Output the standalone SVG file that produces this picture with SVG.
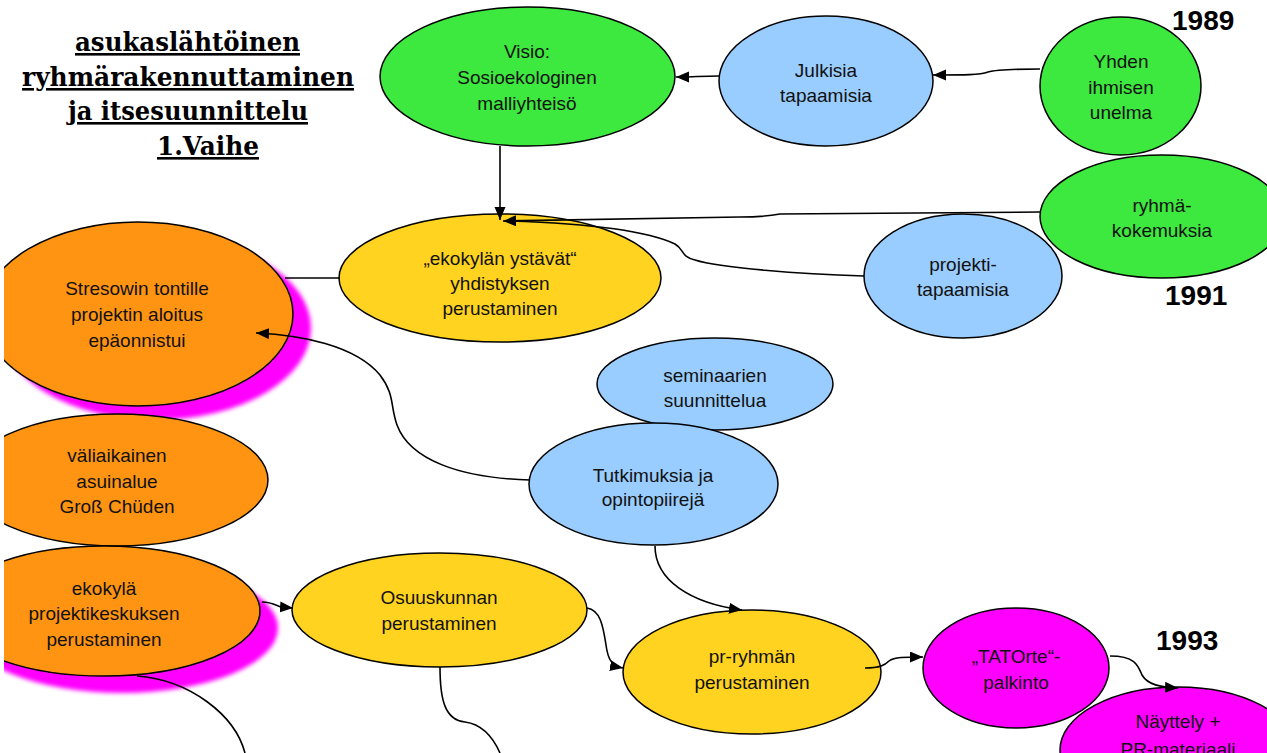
<svg xmlns="http://www.w3.org/2000/svg" width="1267" height="753" viewBox="0 0 1267 753">
<defs>
<marker id="arr" markerUnits="userSpaceOnUse" markerWidth="14" markerHeight="12" refX="13" refY="5.5" orient="auto"><path d="M0,0 L13,5.5 L0,11 z" fill="#000"/></marker>
<filter id="blur" x="-20%" y="-20%" width="140%" height="140%"><feGaussianBlur stdDeviation="2"/></filter>
<clipPath id="pg"><rect x="4" y="0" width="1263" height="753"/></clipPath>
</defs>
<style>
.n ellipse{stroke:#000;stroke-width:1.5}
.g{fill:#3DE83F}.b{fill:#99CCFF}.y{fill:#FFD320}.o{fill:#FF9412}.m{fill:#FF00FF}
.n ellipse.sh{fill:#FF00FF;stroke:none;filter:url(#blur)}
text{font-family:"Liberation Sans",Arial,sans-serif;font-size:19px;fill:#111;text-anchor:middle}
text.t{font-family:"DejaVu Serif",serif;font-weight:bold;font-size:26px;text-decoration:underline;fill:#000}
text.yr{font-weight:bold;font-size:28px;text-anchor:start;fill:#000}
.c path{fill:none;stroke:#000;stroke-width:1.6}
</style>
<rect width="1267" height="753" fill="#fff"/>

<g id="title">
<text class="t" x="187.5" y="51" textLength="225" lengthAdjust="spacingAndGlyphs">asukaslähtöinen</text>
<text class="t" x="188" y="86" textLength="332" lengthAdjust="spacingAndGlyphs">ryhmärakennuttaminen</text>
<text class="t" x="188" y="120" textLength="240" lengthAdjust="spacingAndGlyphs">ja itsesuunnittelu</text>
<text class="t" x="208" y="155" textLength="102" lengthAdjust="spacingAndGlyphs">1.Vaihe</text>
</g>

<g id="years">
<text class="yr" x="1172" y="30">1989</text>
<text class="yr" x="1165" y="305">1991</text>
<text class="yr" x="1156" y="650">1993</text>
</g>

<g id="visio" class="n"><ellipse class="g" cx="527.5" cy="76.5" rx="147.5" ry="69.5"/>
<text x="527" y="58">Visio:</text><text x="527" y="84">Sosioekologinen</text><text x="527" y="110">malliyhteisö</text></g>

<g id="julkisia" class="n"><ellipse class="b" cx="826" cy="81" rx="107" ry="65"/>
<text x="826" y="77">Julkisia</text><text x="826" y="102">tapaamisia</text></g>

<g id="yhden" class="n"><ellipse class="g" cx="1120.5" cy="86" rx="80.5" ry="69"/>
<text x="1121" y="68">Yhden</text><text x="1121" y="94">ihmisen</text><text x="1121" y="119">unelma</text></g>

<g id="ryhma" class="n"><ellipse class="g" cx="1162" cy="216.5" rx="122" ry="61.5"/>
<text x="1162" y="212">ryhmä-</text><text x="1162" y="237">kokemuksia</text></g>

<g id="projekti" class="n"><ellipse class="b" cx="963" cy="276" rx="99" ry="62"/>
<text x="963" y="271">projekti-</text><text x="963" y="296">tapaamisia</text></g>

<g id="ekokylan" class="n"><ellipse class="y" cx="500" cy="278" rx="161" ry="64"/>
<text x="500" y="265">„ekokylän ystävät“</text><text x="500" y="290">yhdistyksen</text><text x="500" y="315">perustaminen</text></g>

<g id="stresow" class="n" clip-path="url(#pg)"><ellipse class="sh" cx="156" cy="328" rx="155" ry="92"/>
<ellipse class="o" cx="138" cy="314" rx="155" ry="92"/>
<text x="137" y="295">Stresowin tontille</text><text x="137" y="321">projektin aloitus</text><text x="137" y="347">epäonnistui</text></g>

<g id="valiaikainen" class="n" clip-path="url(#pg)"><ellipse class="o" cx="117" cy="480" rx="151" ry="66"/>
<text x="117" y="462">väliaikainen</text><text x="117" y="488">asuinalue</text><text x="117" y="513">Groß Chüden</text></g>

<g id="projektikeskus" class="n" clip-path="url(#pg)"><ellipse class="sh" cx="122" cy="628" rx="156" ry="65"/>
<ellipse class="o" cx="104" cy="611" rx="156" ry="65"/>
<text x="104" y="595">ekokylä</text><text x="104" y="620">projektikeskuksen</text><text x="104" y="646">perustaminen</text></g>

<g id="seminaarien" class="n"><ellipse class="b" cx="715" cy="384" rx="118" ry="46"/>
<text x="715" y="382">seminaarien</text><text x="715" y="407">suunnittelua</text></g>

<g id="tutkimuksia" class="n"><ellipse class="b" cx="653.5" cy="484" rx="124.5" ry="61"/>
<text x="653" y="482">Tutkimuksia ja</text><text x="653" y="506">opintopiirejä</text></g>

<g id="osuuskunnan" class="n"><ellipse class="y" cx="439.5" cy="610" rx="147.5" ry="57"/>
<text x="439" y="604">Osuuskunnan</text><text x="439" y="630">perustaminen</text></g>

<g id="prryhman" class="n"><ellipse class="y" cx="752" cy="672" rx="129" ry="62"/>
<text x="752" y="663">pr-ryhmän</text><text x="752" y="689">perustaminen</text></g>

<g id="tatorte" class="n"><ellipse class="m" cx="1016" cy="668" rx="93" ry="60"/>
<text x="1016" y="663">„TATOrte“-</text><text x="1016" y="689">palkinto</text></g>

<g id="nayttely" class="n"><ellipse class="m" cx="1178" cy="750" rx="118" ry="63"/>
<text x="1178" y="728">Näyttely +</text><text x="1178" y="756">PR-materiaali</text></g>

<g id="connectors" class="c">
<path d="M1040,69 C1005,69 995,70 988,72 C980,75 965,75 933,75" marker-end="url(#arr)"/>
<path d="M719,76 C700,76 695,77 676,77" marker-end="url(#arr)"/>
<path d="M500,146 L500,220" marker-end="url(#arr)"/>
<path d="M1041,212 L780,214 C770,216 760,217 740,217 L503,221" marker-end="url(#arr)"/>
<path d="M864,276 C800,274 720,268 695,260 C680,256 685,250 675,244 C650,232 600,224 510,221"/>
<path d="M285,278 L340,278"/>
<path d="M530,480 C460,478 410,460 397,425 C390,405 395,395 380,375 C355,345 300,335 256,333" marker-end="url(#arr)"/>
<path d="M655,546 C655,580 690,603 742,610" marker-end="url(#arr)"/>
<path d="M262,602 C272,602 277,606 281,607 L293,608" marker-end="url(#arr)"/>
<path d="M587,608 C600,610 603,625 606,645 C608,660 612,666 623,668" marker-end="url(#arr)"/>
<path d="M865,668 C880,668 885,665 889,661 C894,657 905,657 923,657" marker-end="url(#arr)"/>
<path d="M1110,656 C1135,656 1138,665 1142,675 C1148,685 1160,687 1178,688" marker-end="url(#arr)"/>
<path d="M137,676 C190,680 235,715 245,753"/>
<path d="M440,667 C440,700 445,720 465,722 C480,724 492,735 500,753"/>
</g>
</svg>
